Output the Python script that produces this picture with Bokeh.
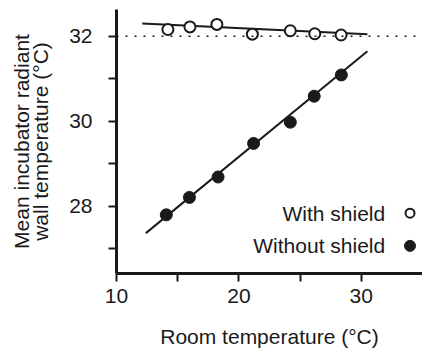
from bokeh.plotting import figure
from bokeh.models import FixedTicker, Label, Span
from bokeh.embed import file_html
from bokeh.resources import INLINE

# Data
room_temp_with = [14.2, 16.0, 18.2, 21.1, 24.2, 26.2, 28.35]
wall_with = [32.16, 32.22, 32.28, 32.05, 32.13, 32.06, 32.03]
fit_with_x = [12.1, 30.5]
fit_with_y = [32.30, 32.05]

room_temp_without = [14.07, 15.96, 18.3, 21.2, 24.2, 26.15, 28.37]
wall_without = [27.80, 28.21, 28.69, 29.48, 29.98, 30.59, 31.09]
fit_without_x = [12.4, 30.5]
fit_without_y = [27.37, 31.65]

reference_level = 32.0
x_major = [10, 20, 30]
x_minor = [15, 25]
y_major = [28, 30, 32]
y_minor = [27, 29, 31]
legend_labels = ["With shield", "Without shield"]

FONT = "Liberation Sans"
INK = "#1a1a1a"
FS = "21px"

p = figure(width=422, height=350, output_backend="svg", toolbar_location=None,
           x_range=(10, 35.0), y_range=(26.42, 32.63),
           min_border_left=116, min_border_right=0, min_border_top=9, min_border_bottom=74)
p.outline_line_color = None
p.grid.grid_line_color = None
p.background_fill_color = "white"

for ax in (p.xaxis[0], p.yaxis[0]):
    ax.axis_line_width = 3
    ax.axis_line_color = INK
    ax.major_tick_line_width = 2
    ax.minor_tick_line_width = 2
    ax.major_tick_line_color = INK
    ax.minor_tick_line_color = INK
    ax.major_tick_in = 0
    ax.major_tick_out = 8
    ax.minor_tick_in = 0
    ax.minor_tick_out = 8
    ax.major_label_text_font = FONT
    ax.major_label_text_font_size = FS
    ax.major_label_text_color = INK
    ax.axis_label_text_font = FONT
    ax.axis_label_text_font_size = FS
    ax.axis_label_text_font_style = "normal"
    ax.axis_label_text_color = INK

p.xaxis[0].ticker = FixedTicker(ticks=x_major, minor_ticks=x_minor)
p.yaxis[0].ticker = FixedTicker(ticks=y_major, minor_ticks=y_minor)
p.xaxis[0].axis_label = "Room temperature (°C)"
p.yaxis[0].axis_label = "Mean incubator radiant\nwall temperature (°C)"
p.yaxis[0].axis_label_text_line_height = 0.82
p.xaxis[0].major_label_standoff = 7
p.yaxis[0].major_label_standoff = 16
p.xaxis[0].axis_label_standoff = 19
p.yaxis[0].axis_label_standoff = 14

p.add_layout(Span(location=reference_level, dimension="width", line_color=INK,
                  line_width=1.6, line_dash="2 7"))

p.line(fit_with_x, fit_with_y, line_color=INK, line_width=2)
p.line(fit_without_x, fit_without_y, line_color=INK, line_width=2)

p.scatter(room_temp_with, wall_with, size=11, marker="circle", fill_color="white",
          line_color=INK, line_width=2)
p.scatter(room_temp_without, wall_without, size=12, marker="circle", fill_color=INK,
          line_color=INK, line_width=1)

# legend (text left of marker)
leg_text_x = 31.95
leg_marker_x = 33.98
leg_y = [27.84, 27.07]
for lbl, yy in zip(legend_labels, leg_y):
    p.add_layout(Label(x=leg_text_x, y=yy, text=lbl, text_align="right",
                       text_baseline="middle", text_font=FONT, text_font_size=FS,
                       text_color=INK))
p.scatter([leg_marker_x], [leg_y[0]], size=9, marker="circle", fill_color="white",
          line_color=INK, line_width=2)
p.scatter([leg_marker_x], [leg_y[1]], size=11, marker="circle", fill_color=INK,
          line_color=INK, line_width=1)

open("out.html", "w").write(file_html(p, INLINE))
